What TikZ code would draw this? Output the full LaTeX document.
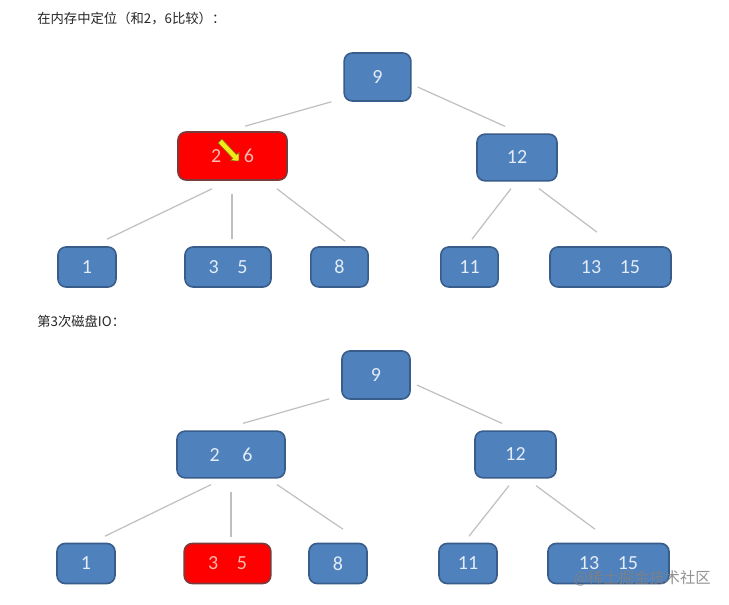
\documentclass[tikz,border=0pt]{standalone}
\usepackage{fontspec}
\setmainfont{Carlito}
\newfontfamily\cjk{Noto Sans CJK SC}
\usetikzlibrary{shapes.arrows}
\definecolor{nodeblue}{HTML}{4F81BD}
\definecolor{nodeedge}{HTML}{385D8A}
\definecolor{keytext}{HTML}{E3ECF7}
\definecolor{hitred}{HTML}{FF0000}
\definecolor{hitedge}{HTML}{7A3B3B}
\definecolor{hittext}{HTML}{F9B9AE}
\definecolor{linkgray}{HTML}{BFBFBF}
\definecolor{ptryellow}{HTML}{F2E81A}

\begin{document}
\begin{tikzpicture}[
    x=0.75pt, y=-0.75pt,
    bnode/.style={rectangle, rounded corners=6pt, draw=nodeedge, line width=1.2pt, fill=nodeblue, text=keytext, font=\fontsize{15}{17}\selectfont, minimum height=36pt, inner sep=0pt},
    leaf/.style={bnode, minimum height=30pt},
    hit/.style={fill=hitred, draw=hitedge, text=hittext},
    link/.style={draw=linkgray, line width=0.9pt},
    title/.style={anchor=west, font=\cjk\fontsize{10}{12}\selectfont, text=black!85, inner sep=0pt}
]
    \fill[white] (0,0) rectangle (729,605);
    \useasboundingbox (0,0) rectangle (729,605);

    % first lookup
    \node[title] (T1) at (37,19) {在内存中定位（和2，6比较）：};
    \node[bnode, minimum width=50pt] (R1) at (377.5,77) {9};
    \node[bnode, hit, minimum width=81.75pt] (A1) at (232.5,156) {2\hspace{17pt}6};
    \node[bnode, minimum width=60pt, minimum height=35pt] (B1) at (517,157.5) {12};
    \node[leaf, minimum width=43.5pt] (L11) at (87,267) {1};
    \node[leaf, minimum width=64.5pt] (L12) at (228,267) {3\hspace{14pt}5};
    \node[leaf, minimum width=43pt] (L13) at (339.5,267) {8};
    \node[leaf, minimum width=43pt] (L14) at (469.5,267) {11};
    \node[leaf, minimum width=90.75pt] (L15) at (610.5,267) {13\hspace{14pt}15};
    \node[single arrow, draw=olive!80!black, line width=0.4pt, fill=ptryellow, minimum height=20.5pt, inner sep=1.8pt, single arrow head extend=2.5pt, rotate=-46.5] (P1) at (228.5,150) {};

    \draw[link] ([shift={(-12,0)}]R1.south west) -- ([shift={(12.5,-5)}]A1.north);
    \draw[link] ([shift={(6,10)}]R1.east) -- ([shift={(-12,-7)}]B1.north);
    \draw[link] ([shift={(-20.5,8)}]A1.south) -- ([shift={(20,-7)}]L11.north);
    \draw[link] ([shift={(-0.5,13)}]A1.south) -- ([shift={(4,-7)}]L12.north);
    \draw[link] ([shift={(44.5,8)}]A1.south) -- ([shift={(5.5,-5)}]L13.north);
    \draw[link] ([shift={(-6,7)}]B1.south) -- ([shift={(2.5,-7)}]L14.north);
    \draw[link] ([shift={(22,7)}]B1.south) -- ([shift={(-13.5,-14)}]L15.north);

    % third disk IO
    \node[title] (T2) at (37,321.5) {第3次磁盘IO：};
    \node[bnode, minimum width=51pt] (R2) at (376,375) {9};
    \node[bnode, minimum width=81pt, minimum height=35pt] (A2) at (231,454.5) {2\hspace{17pt}6};
    \node[bnode, minimum width=60.75pt, minimum height=35pt] (B2) at (515.5,454.5) {12};
    \node[leaf, minimum width=43.5pt] (L21) at (86,563.5) {1};
    \node[leaf, hit, minimum width=65pt] (L22) at (227.5,563.5) {3\hspace{14pt}5};
    \node[leaf, minimum width=43.5pt] (L23) at (338,563.5) {8};
    \node[leaf, minimum width=43.5pt] (L24) at (468,563.5) {11};
    \node[leaf, minimum width=90.75pt] (L25) at (608.5,563.5) {13\hspace{14pt}15};

    \draw[link] ([shift={(-12,-1)}]R2.south west) -- ([shift={(12,-7)}]A2.north);
    \draw[link] ([shift={(6,10)}]R2.east) -- ([shift={(-13.5,-7)}]B2.north);
    \draw[link] ([shift={(-20,6)}]A2.south) -- ([shift={(19,-6.5)}]L21.north);
    \draw[link] ([shift={(0,13)}]A2.south) -- ([shift={(3.5,-5.5)}]L22.north);
    \draw[link] ([shift={(46,6)}]A2.south) -- ([shift={(5,-13.5)}]L23.north);
    \draw[link] ([shift={(-6.5,7)}]B2.south) -- ([shift={(1,-6.5)}]L24.north);
    \draw[link] ([shift={(20.5,7)}]B2.south) -- ([shift={(-13.5,-13.5)}]L25.north);

    \node[anchor=east, font=\cjk\fontsize{11.5}{13}\selectfont, text=gray, text opacity=0.85, inner sep=0pt] (W) at (711,578.5) {@稀土掘金技术社区};
\end{tikzpicture}
\end{document}
